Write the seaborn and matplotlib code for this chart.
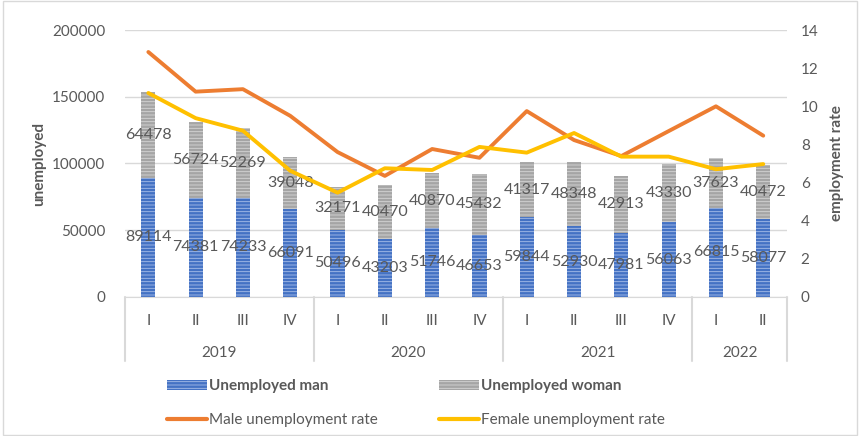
import numpy as np
import pandas as pd
import seaborn as sns
import matplotlib.pyplot as plt
from matplotlib.lines import Line2D
from matplotlib.patches import Patch, Rectangle
import matplotlib.transforms as mtransforms

# 데이터
years = ['2019', '2020', '2021', '2022']
quarters_per_year = [4, 4, 4, 2]
quarters = ['I', 'II', 'III', 'IV', 'I', 'II', 'III', 'IV',
            'I', 'II', 'III', 'IV', 'I', 'II']
men = [89114, 74381, 74233, 66091, 50496, 43203, 51746, 46653,
       59844, 52930, 47981, 56063, 66815, 58077]
women = [64478, 56724, 52269, 39048, 32171, 40470, 40870, 45432,
         41317, 48348, 42913, 43330, 37623, 40472]
male_rate = [12.85, 10.77, 10.9, 9.5, 7.6, 6.35, 7.76, 7.3,
             9.75, 8.23, 7.39, 8.7, 10.0, 8.46]
female_rate = [10.7, 9.38, 8.72, 6.62, 5.47, 6.75, 6.66, 7.87,
               7.57, 8.6, 7.36, 7.36, 6.7, 6.97]

c_man = '#4472C4'
c_woman = '#A5A5A5'
c_male = '#ED7D31'
c_female = '#FFC000'
c_text = '#595959'
c_grid = '#D9D9D9'

sns.set_style('white')
plt.rcParams['font.family'] = ['Lato', 'DejaVu Sans']
plt.rcParams['hatch.linewidth'] = 0.6

df = pd.DataFrame({'pos': np.arange(len(quarters)), 'men': men, 'women': women})
df['total'] = df.men + df.women

fig = plt.figure(figsize=(8.6, 4.36), dpi=100)
ax = fig.add_axes([0.145, 0.319, 0.77, 0.612])

# 누적 막대: 전체(여성 위) -> 남성 덮어쓰기
sns.barplot(data=df, x='pos', y='total', color=c_woman, width=0.3,
            saturation=1, ax=ax, hatch='-----', edgecolor='#D6D6D6', linewidth=0)
sns.barplot(data=df, x='pos', y='men', color=c_man, width=0.3,
            saturation=1, ax=ax, hatch='-----', edgecolor='#A8BEE8', linewidth=0)

for i in range(len(quarters)):
    ax.text(i, men[i] / 2, str(men[i]), ha='center', va='center',
            fontsize=11.5, color=c_text)
    ax.text(i, men[i] + women[i] / 2, str(women[i]), ha='center', va='center',
            fontsize=11.5, color=c_text)

ax.set_ylim(0, 200000)
ax.set_yticks(range(0, 200001, 50000))
ax.set_xlim(-0.5, len(quarters) - 0.5)
ax.grid(axis='y', color=c_grid, linewidth=1)
ax.set_axisbelow(True)
for s in ['top', 'right', 'left']:
    ax.spines[s].set_visible(False)
ax.spines['bottom'].set_color(c_grid)
ax.tick_params(axis='y', colors=c_text, labelsize=11, length=0, pad=14)
ax.set_xticks(range(len(quarters)))
ax.set_xticklabels(quarters)
ax.tick_params(axis='x', colors=c_text, labelsize=11, length=0, pad=12)
ax.set_xlabel('')
ax.set_ylabel('unemployed', fontsize=11, fontweight='bold', color=c_text, labelpad=4)

# 연도 라벨 + 구분선
trans = mtransforms.blended_transform_factory(ax.transData, ax.transAxes)
edges = np.concatenate([[0], np.cumsum(quarters_per_year)]) - 0.5
for e in edges:
    ax.plot([e, e], [0, -0.24], transform=trans, color=c_grid, lw=1.5, clip_on=False)
for y, a, b in zip(years, edges[:-1], edges[1:]):
    ax.text((a + b) / 2, -0.21, y, transform=trans, ha='center', va='center',
            fontsize=11, color=c_text)

# 실업률 (오른쪽 축)
ax2 = ax.twinx()
sns.lineplot(x=df.pos, y=male_rate, color=c_male, lw=2.8, ax=ax2)
sns.lineplot(x=df.pos, y=female_rate, color=c_female, lw=2.8, ax=ax2)
ax2.set_ylim(0, 14)
ax2.set_yticks(range(0, 15, 2))
for s in ax2.spines.values():
    s.set_visible(False)
ax2.tick_params(axis='y', colors=c_text, labelsize=11, length=0, pad=10)
ax2.set_ylabel('employment rate', fontsize=11, fontweight='bold', color=c_text, labelpad=8)
ax2.grid(False)

# 범례 (열 우선 배치라 순서 조정)
handles = [Patch(facecolor=c_man, hatch='-----', edgecolor='#A8BEE8', linewidth=0),
           Line2D([], [], color=c_male, lw=3),
           Patch(facecolor=c_woman, hatch='-----', edgecolor='#D6D6D6', linewidth=0),
           Line2D([], [], color=c_female, lw=3)]
labels = ['Unemployed man', 'Male unemployment rate',
          'Unemployed woman', 'Female unemployment rate']
leg = fig.legend(handles, labels, ncol=2, loc='center', bbox_to_anchor=(0.484, 0.075),
                 frameon=False, fontsize=11, handlelength=2.6, handletextpad=0.15,
                 columnspacing=4.0, labelspacing=1.3)
for t in leg.get_texts():
    t.set_color(c_text)
    if t.get_text().startswith('Unemployed'):
        t.set_fontweight('bold')

fig.patches.append(Rectangle((0.003, 0.003), 0.994, 0.994, transform=fig.transFigure,
                             fill=False, edgecolor=c_grid, lw=1))

fig.savefig('out.png', dpi=100)
